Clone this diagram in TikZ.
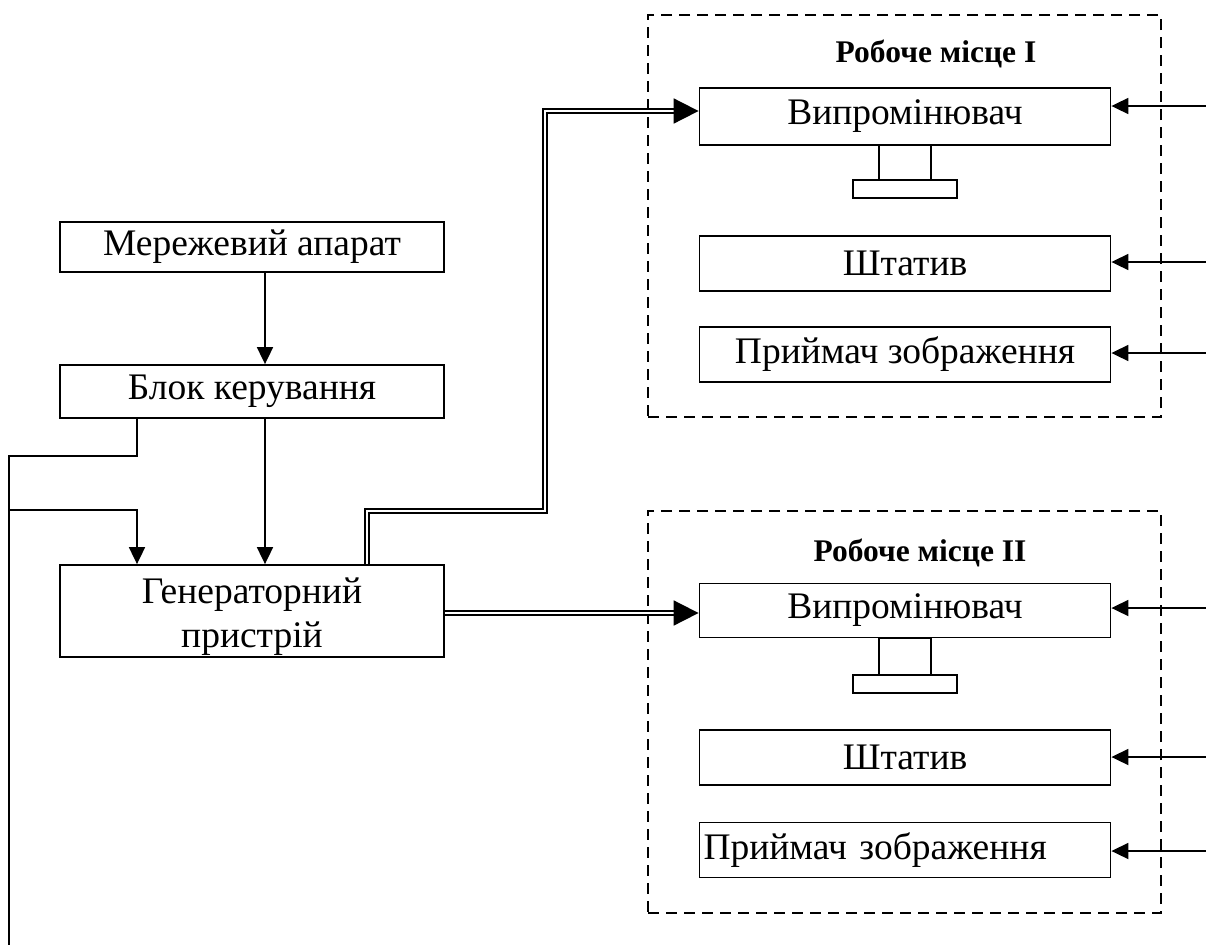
\documentclass[tikz,border=0pt]{standalone}
\usepackage{fontspec}
\setmainfont{Liberation Serif}
\usetikzlibrary{arrows.meta,calc}
\begin{document}
\begin{tikzpicture}[x=1pt,y=-1pt,
  blk/.style={draw, line width=1.8pt, minimum width=384pt, inner sep=0pt,
    font=\fontsize{37.5}{44}\selectfont, align=center},
  wbox/.style={draw, line width=1.8pt, minimum width=411pt, minimum height=55pt, inner sep=0pt,
    font=\fontsize{37.5}{45}\selectfont},
  wsbox/.style={draw, line width=1.6pt, dash pattern=on 11pt off 7pt, minimum width=513pt, minimum height=402pt, inner sep=0pt},
  ttl/.style={font=\fontsize{31.5}{36}\selectfont\bfseries, inner sep=0pt},
  ln/.style={line width=1.8pt},
  arr/.style={line width=1.8pt, -{Triangle[length=17pt,width=16pt]}},
  bigarr/.style={line width=1.8pt, -{Triangle[length=25pt,width=25pt]}},
  dbl/.style={double, line width=1.9pt, double distance=2.6pt},
  stand/.style={line width=1.6pt}
]
\useasboundingbox (0,0) rectangle (1206,945);

% left column
\node[blk, minimum height=50pt] (mer) at (252,247) {Мережевий апарат};
\node[blk, minimum height=53pt] (blok) at (252,391.5) {Блок керування};
\node[blk, minimum height=92pt] (gen) at (252,611) {\rule{0pt}{37pt}Генераторний\\пристрій};

\draw[arr] ([xshift=13pt]mer.south) -- ([xshift=13pt]blok.south |- blok.north);
\draw[arr] ([xshift=13pt]blok.south) -- ([xshift=13pt]gen.north);

\coordinate (bot) at (9,945);
\coordinate (jn) at (9,510);
\draw[ln] ([xshift=-115pt]blok.south) -- ++(0,37) -| (bot);
\draw[arr] (jn) -| ([xshift=-115pt]gen.north);

% workstation I
\node[wsbox] (ws1) at (904.5,216) {};
\node[ttl] (t1ttl) at (936,54) {Робоче місце I};
\node[wbox, minimum height=57pt] (vip1) at (905,116.5) {Випромінювач};
\draw[stand] (879,145) rectangle (931,180);
\draw[stand] (853,180) rectangle (957,198);
\node[wbox] (sht1) at (905,263.5) {Штатив};
\node[wbox] (pr1) at (905,354.5) {Приймач зображення};

% workstation II
\node[wsbox] (ws2) at (904.5,712) {};
\node[ttl] (t2ttl) at (920,553) {Робоче місце II};
\node[wbox, minimum height=54pt] (vip2) at (905,610.5) {Випромінювач};
\draw[stand] (879,638) rectangle (931,675);
\draw[stand] (853,675) rectangle (957,693);
\node[wbox] (sht2) at (905,757.5) {Штатив};
\node[wbox, text width=403pt, inner xsep=4pt, align=left] (pr2) at (905,850) {Приймач зображення};

% double connectors
\coordinate (k1) at (545,511);
\coordinate (a1) at (674,111);
\coordinate (a2) at (674,613);
\draw[dbl] ([xshift=115pt]gen.north) |- (k1) |- (a1);
\draw[bigarr] (a1) -- (a1 -| vip1.west);
\draw[dbl] (gen.east |- a2) -- (a2);
\draw[bigarr] (a2) -- (a2 -| vip2.west);

% right inputs
\coordinate (r1) at (1206,106);
\coordinate (r2) at (1206,262);
\coordinate (r3) at (1206,353);
\coordinate (r4) at (1206,608);
\coordinate (r5) at (1206,757);
\coordinate (r6) at (1206,851);
\draw[arr] (r1) -- (r1 -| vip1.east);
\draw[arr] (r2) -- (r2 -| sht1.east);
\draw[arr] (r3) -- (r3 -| pr1.east);
\draw[arr] (r4) -- (r4 -| vip2.east);
\draw[arr] (r5) -- (r5 -| sht2.east);
\draw[arr] (r6) -- (r6 -| pr2.east);
\end{tikzpicture}
\end{document}
